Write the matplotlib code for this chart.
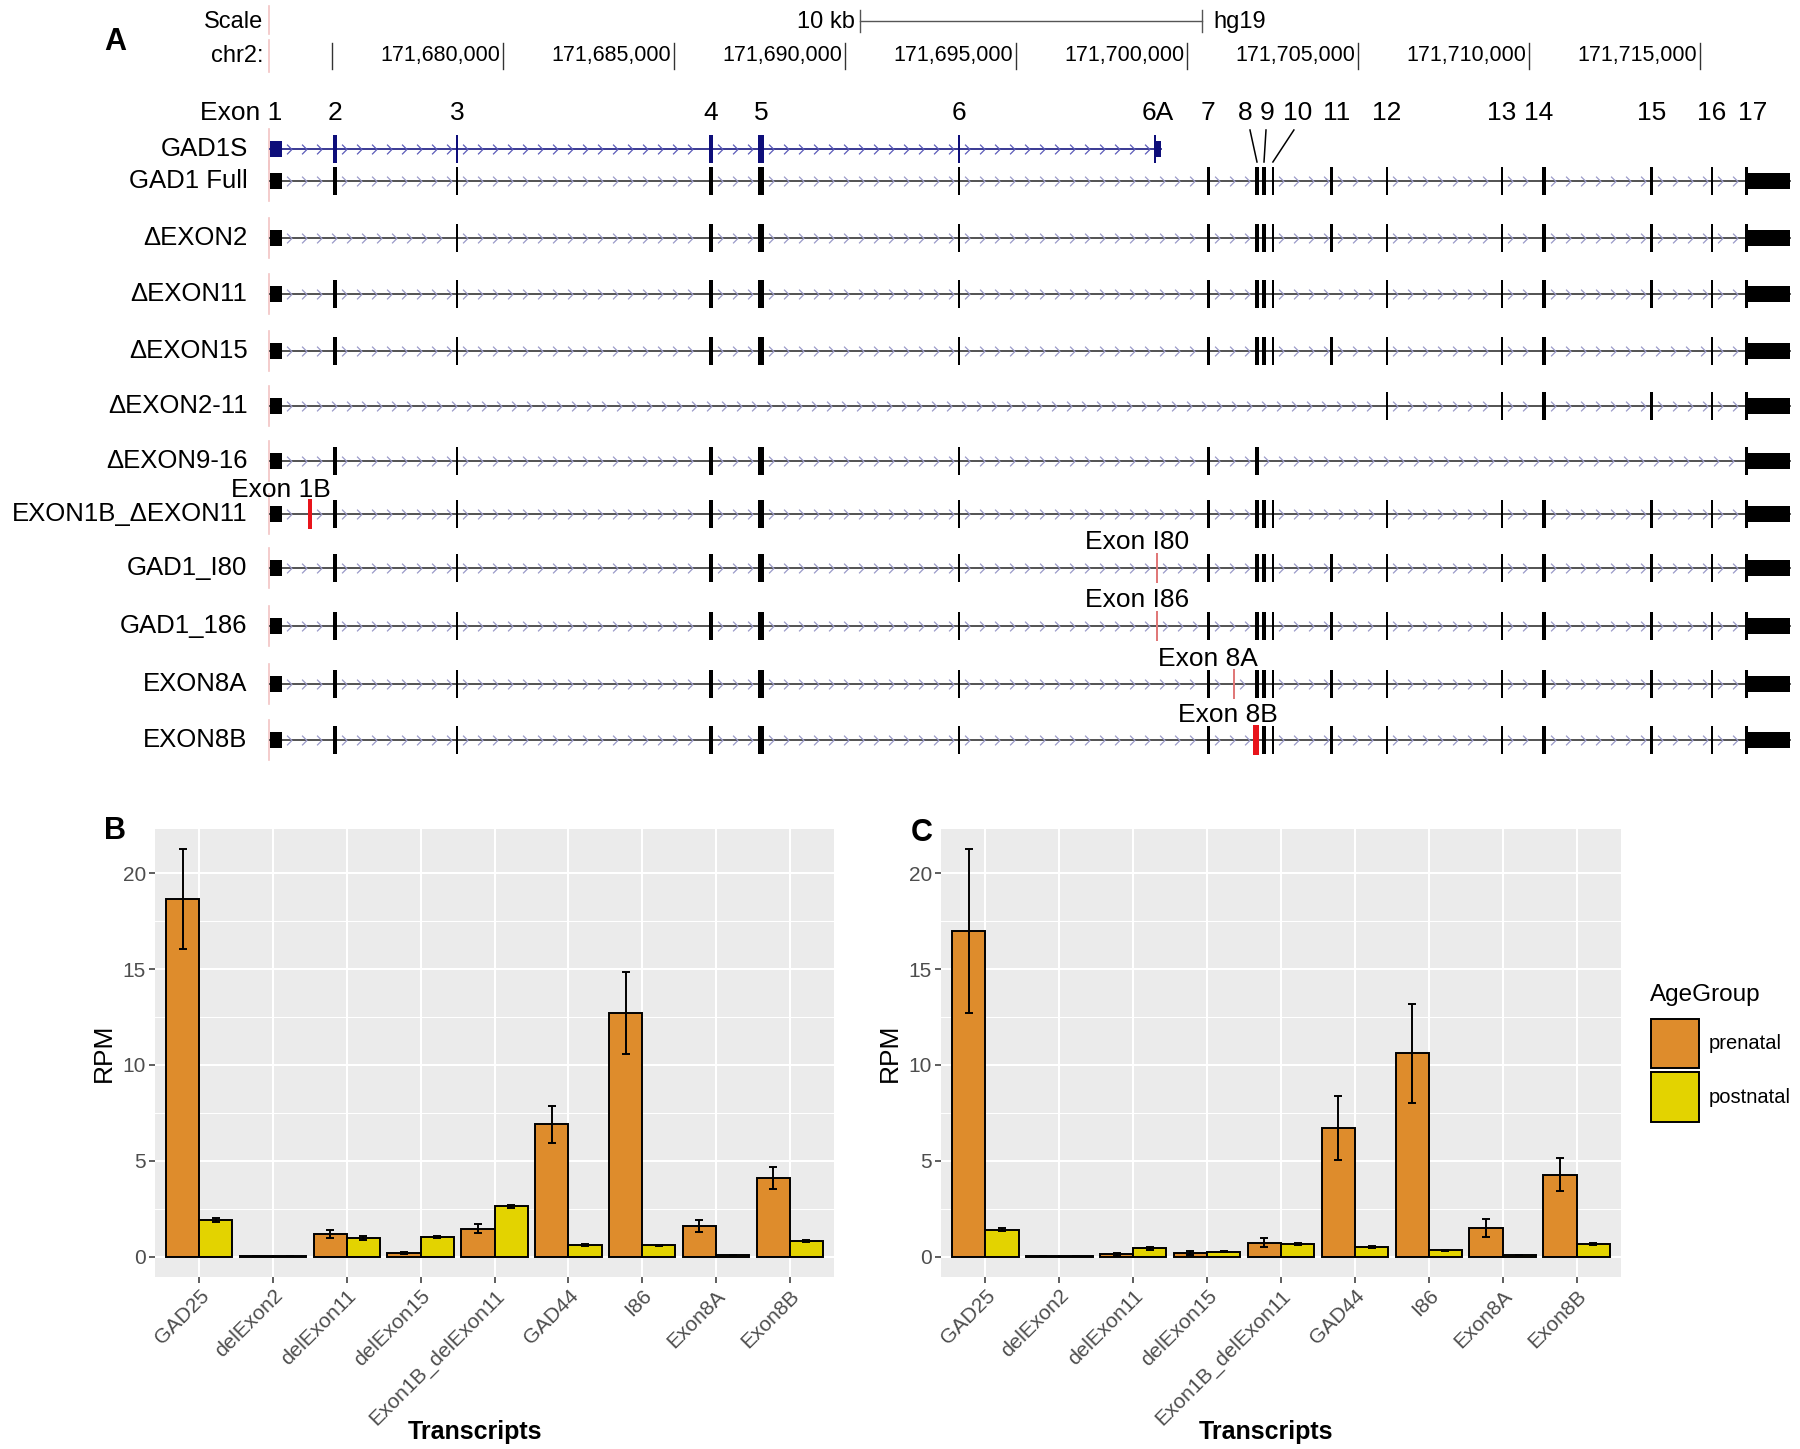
import numpy as np
import matplotlib.pyplot as plt
from matplotlib.patches import Rectangle
from matplotlib.path import Path
from matplotlib.ticker import FixedLocator
from matplotlib import font_manager

_names = {f.name for f in font_manager.fontManager.ttflist}
NARROW = "Liberation Sans Narrow" if "Liberation Sans Narrow" in _names else "Liberation Sans"
plt.rcParams["font.family"] = ["Liberation Sans", "DejaVu Sans"]

# ---------------- panel A data (hg19, chr2) ----------------
chr_ticks = [171675000, 171680000, 171685000, 171690000, 171695000,
             171700000, 171705000, 171710000, 171715000]
chr_tick_labels = ["", "171,680,000", "171,685,000", "171,690,000", "171,695,000",
                   "171,700,000", "171,705,000", "171,710,000", "171,715,000"]
scale_bar_start = 171690430
scale_bar_len = 10000

exon_names = ["1", "2", "3", "4", "5", "6", "6A", "7", "8", "9", "10",
              "11", "12", "13", "14", "15", "16", "17"]
exon_start = [171673190, 171675045, 171678625, 171686020, 171687440, 171693300,
              171699030, 171700565, 171701995, 171702200, 171702475, 171704185,
              171705810, 171709170, 171710370, 171713540, 171715310, 171716305]
exon_end = [171673540, 171675135, 171678685, 171686140, 171687640, 171693360,
            171699235, 171700655, 171702085, 171702290, 171702535, 171704275,
            171705870, 171709230, 171710490, 171713630, 171715370, 171717620]
# untranslated (thin) part of exons: name -> start of thin part
utr_from = {"1": 171673190, "6A": 171699090, "17": 171716395}

# novel exons: name -> (start, end, label, colour)
novel_exons = {
    "1B": (171674300, 171674420, "Exon 1B", "#E8141B"),
    "I80": (171699095, 171699135, "Exon I80", "#E07878"),
    "I86": (171699095, 171699135, "Exon I86", "#E07878"),
    "8A": (171701345, 171701385, "Exon 8A", "#E07878"),
    "8B": (171701910, 171702110, "Exon 8B", "#E8141B"),
}

std = ["1", "2", "3", "4", "5", "6", "7", "8", "9", "10", "11",
       "12", "13", "14", "15", "16", "17"]
transcripts = ["GAD1S", "GAD1 Full", "\u0394EXON2", "\u0394EXON11", "\u0394EXON15",
               "\u0394EXON2-11", "\u0394EXON9-16", "EXON1B_\u0394EXON11",
               "GAD1_I80", "GAD1_186", "EXON8A", "EXON8B"]
transcript_exons = [
    ["1", "2", "3", "4", "5", "6", "6A"],
    std,
    [e for e in std if e != "2"],
    [e for e in std if e != "11"],
    [e for e in std if e != "15"],
    ["1", "12", "13", "14", "15", "16", "17"],
    ["1", "2", "3", "4", "5", "6", "7", "8", "17"],
    [e for e in std if e != "11"] + ["1B"],
    std + ["I80"],
    std + ["I86"],
    std + ["8A"],
    [e for e in std if e != "8"] + ["8B"],
]

# ---------------- panels B / C data ----------------
bar_transcripts = ["GAD25", "delExon2", "delExon11", "delExon15", "Exon1B_delExon11",
                   "GAD44", "I86", "Exon8A", "Exon8B"]
b_pre = [18.65, 0.03, 1.17, 0.17, 1.46, 6.90, 12.70, 1.62, 4.12]
b_pre_se = [2.60, 0.01, 0.20, 0.05, 0.25, 0.95, 2.15, 0.31, 0.57]
b_post = [1.91, 0.04, 0.96, 1.04, 2.64, 0.61, 0.59, 0.09, 0.80]
b_post_se = [0.08, 0.01, 0.10, 0.05, 0.08, 0.04, 0.04, 0.02, 0.05]
c_pre = [16.96, 0.02, 0.12, 0.19, 0.72, 6.72, 10.61, 1.50, 4.28]
c_pre_se = [4.28, 0.01, 0.07, 0.10, 0.24, 1.68, 2.58, 0.45, 0.84]
c_post = [1.40, 0.02, 0.44, 0.26, 0.66, 0.52, 0.33, 0.09, 0.66]
c_post_se = [0.07, 0.01, 0.07, 0.04, 0.05, 0.05, 0.04, 0.02, 0.05]
age_groups = ["prenatal", "postnatal"]

PRE_COL = "#DE8C2C"
POST_COL = "#E3D300"

W, H = 1800, 1449
fig = plt.figure(figsize=(W / 100, H / 100), dpi=100)

# ---------------- panel A ----------------
A_H = 800
REF_POS, REF_PX, PX_PER_BP = 171680000, 503.0, 34.21 / 1000.0
ax_a = fig.add_axes([0, 1 - A_H / H, 1, A_H / H])
ax_a.set_xlim(REF_POS - REF_PX / PX_PER_BP, REF_POS + (W - REF_PX) / PX_PER_BP)
ax_a.set_ylim(A_H, 0)
ax_a.axis("off")
bp = 1.0 / PX_PER_BP  # bp per pixel

row_y = [149, 181, 238, 294, 351, 406, 461, 514, 568, 626, 684, 740]
TALL, SHORT = 28, 16
PINK = "#F2C4C4"
track_left = exon_start[0] - 1.5 * bp
ruler_font = dict(fontsize=17, family=[NARROW, "DejaVu Sans"])

fig.text(115 / W, 1 - 42 / H, "A", fontsize=22, fontweight="bold", ha="center", va="center")

# scale row
ax_a.annotate("Scale", (track_left, 22), xytext=(-5, 0), textcoords="offset pixels",
              ha="right", va="center", **ruler_font)
ax_a.plot([track_left] * 2, [6, 34], color=PINK, lw=1.2)
sb0, sb1 = scale_bar_start, scale_bar_start + scale_bar_len
ax_a.plot([sb0, sb1], [21, 21], color="#555555", lw=1.0)
ax_a.plot([sb0, sb0], [10, 32], color="#555555", lw=1.0)
ax_a.plot([sb1, sb1], [10, 32], color="#555555", lw=1.0)
ax_a.annotate("10 kb", (sb0, 22), xytext=(-5, 0), textcoords="offset pixels",
              ha="right", va="center", **ruler_font)
ax_a.annotate("hg19", (sb1, 22), xytext=(11, 0), textcoords="offset pixels",
              ha="left", va="center", **ruler_font)

# chromosome ruler
ax_a.annotate("chr2:", (track_left, 56), xytext=(-5, 0), textcoords="offset pixels",
              ha="right", va="center", **ruler_font)
ax_a.plot([track_left] * 2, [40, 72], color=PINK, lw=1.2)
for t, lab in zip(chr_ticks, chr_tick_labels):
    ax_a.plot([t, t], [43, 69], color="#333333", lw=1.0)
    if lab:
        ax_a.annotate(lab, (t, 56), xytext=(-3, 0), textcoords="offset pixels",
                      ha="right", va="center", fontsize=15.5,
                      family=[NARROW, "DejaVu Sans"])

# exon numbers
label_offset_px = {"8": -12, "9": 3, "10": 25, "11": 5, "14": -5, "17": 8}
for name, s, e in zip(exon_names, exon_start, exon_end):
    if name == "1":
        ax_a.text(e, 113, "Exon 1", ha="right", va="center", fontsize=19)
        continue
    cx = s if name == "17" else (s + e) / 2
    ax_a.annotate(name, (cx, 113), xytext=(label_offset_px.get(name, 0), 0),
                  textcoords="offset pixels", ha="center", va="center", fontsize=19)
for name, dx in [("8", -7), ("9", 2), ("10", 21)]:
    i = exon_names.index(name)
    cx = (exon_start[i] + exon_end[i]) / 2
    ax_a.plot([cx + dx * bp, cx], [130, 162], color="black", lw=1.1)

chev = Path([(-0.5, 1.0), (0.5, 0.0), (-0.5, -1.0)],
            [Path.MOVETO, Path.LINETO, Path.LINETO])


def exon_span(name):
    if name in novel_exons:
        s, e = novel_exons[name][:2]
    else:
        i = exon_names.index(name)
        s, e = exon_start[i], exon_end[i]
    return s, e


for tname, exons, y in zip(transcripts, transcript_exons, row_y):
    navy = tname == "GAD1S"
    ecol = "#0E0E7A" if navy else "black"
    lcol = "#2A2A8A" if navy else "#444444"
    ccol = "#5A5AB8" if navy else "#9A9AC8"
    spans = sorted(exon_span(n) + (n,) for n in exons)
    x0, x1 = spans[0][0], max(sp[1] for sp in spans)

    ax_a.plot([track_left] * 2, [y - 20, y + 20], color=PINK, lw=1.2, zorder=0)
    ax_a.plot([x0, x1], [y, y], color=lcol, lw=1.3, zorder=1)

    # chevrons in introns
    cx = []
    for (s0, e0, _), (s1, e1, _) in zip(spans[:-1], spans[1:]):
        a, b = e0 + 7 * bp, s1 - 4 * bp
        if b > a:
            cx.extend(np.arange(a, b, 15 * bp))
    ax_a.plot(cx, [y] * len(cx), ls="none", marker=chev, ms=7, mfc="none",
              mec=ccol, mew=0.9, zorder=2)

    for s, e, n in spans:
        w = max(e - s, 2 * bp)
        if n in novel_exons:
            col = novel_exons[n][3]
            ax_a.add_patch(Rectangle((s, y - TALL / 2 - 1), w, TALL + 2, color=col, lw=0, zorder=4))
            continue
        if n in utr_from:
            u = utr_from[n]
            if u > s:
                ax_a.add_patch(Rectangle((s, y - TALL / 2), u - s, TALL, color=ecol, lw=0, zorder=3))
            ax_a.add_patch(Rectangle((u, y - SHORT / 2), e - u, SHORT, color=ecol, lw=0, zorder=3))
        else:
            ax_a.add_patch(Rectangle((s, y - TALL / 2), w, TALL, color=ecol, lw=0, zorder=3))

    ax_a.annotate(tname, (track_left, y), xytext=(-21, 0), textcoords="offset pixels",
                  ha="right", va="center", fontsize=18.5)

# novel exon labels
novel_label_pos = {"1B": (281, 490), "I80": (1137, 542), "I86": (1137, 600),
                   "8A": (1208, 659), "8B": (1228, 715)}
for n, (px, py) in novel_label_pos.items():
    ax_a.text(px / W, 1 - py / H, novel_exons[n][2], transform=fig.transFigure,
              ha="center", va="center", fontsize=19)


# ---------------- panels B and C ----------------
def draw_bars(ax, pre, pre_se, post, post_se):
    x = np.arange(len(bar_transcripts))
    w = 0.45
    pre, pre_se = np.array(pre), np.array(pre_se)
    post, post_se = np.array(post), np.array(post_se)
    ax.set_facecolor("#EBEBEB")
    ax.bar(x - w / 2, pre, w, color=PRE_COL, edgecolor="black", linewidth=1.4,
           zorder=3, label=age_groups[0])
    ax.bar(x + w / 2, post, w, color=POST_COL, edgecolor="black", linewidth=1.4,
           zorder=3, label=age_groups[1])
    ax.errorbar(x - w / 2, pre, yerr=pre_se, fmt="none", ecolor="black",
                elinewidth=1.4, capsize=3, capthick=1.4, zorder=4)
    ax.errorbar(x + w / 2, post, yerr=post_se, fmt="none", ecolor="black",
                elinewidth=1.4, capsize=3, capthick=1.4, zorder=4)
    top = max((pre + pre_se).max(), (post + post_se).max())
    ax.set_ylim(-0.05 * top, 1.05 * top)
    ax.set_xlim(-0.6, len(x) - 1 + 0.6)
    ax.set_yticks([0, 5, 10, 15, 20])
    ax.yaxis.set_minor_locator(FixedLocator([2.5, 7.5, 12.5, 17.5]))
    ax.set_xticks(x)
    ax.set_xticklabels(bar_transcripts, rotation=45, ha="right", va="top",
                       rotation_mode="anchor")
    ax.grid(which="major", color="white", lw=1.5)
    ax.grid(which="minor", axis="y", color="white", lw=0.75)
    ax.set_axisbelow(True)
    for sp in ax.spines.values():
        sp.set_visible(False)
    ax.tick_params(axis="both", which="major", color="#333333", labelcolor="#4D4D4D",
                   length=4, width=1.1, labelsize=15, pad=2.5)
    ax.tick_params(which="minor", length=0)
    ax.set_ylabel("RPM", fontsize=19)
    ax.yaxis.set_label_coords(-0.058, 0.5)
    ax.set_xlabel("Transcripts", fontsize=18, fontweight="bold")


ax_b = fig.add_axes([155 / W, 1 - 1277 / H, 679 / W, 448 / H])
draw_bars(ax_b, b_pre, b_pre_se, b_post, b_post_se)
ax_b.xaxis.set_label_coords(0.471, -0.32)

ax_c = fig.add_axes([941 / W, 1 - 1277 / H, 680 / W, 448 / H])
draw_bars(ax_c, c_pre, c_pre_se, c_post, c_post_se)
ax_c.xaxis.set_label_coords(0.478, -0.32)

fig.text(115 / W, 1 - 831 / H, "B", fontsize=22, fontweight="bold", ha="center", va="center")
fig.text(922 / W, 1 - 833 / H, "C", fontsize=22, fontweight="bold", ha="center", va="center")

# legend: title as its own text so the key spacing can follow the reference
fig.text(1650 / W, 1 - 995 / H, "AgeGroup", fontsize=17.5, ha="left", va="center")
leg = ax_c.legend(loc="upper left",
                  bbox_to_anchor=(1651 / W, 1 - 1019 / H), bbox_transform=fig.transFigure,
                  frameon=False, fontsize=14.5,
                  handlelength=2.4, handleheight=3.4, labelspacing=0.2,
                  handletextpad=0.45, borderpad=0, borderaxespad=0)

fig.savefig("out.png", dpi=100, facecolor="white")
